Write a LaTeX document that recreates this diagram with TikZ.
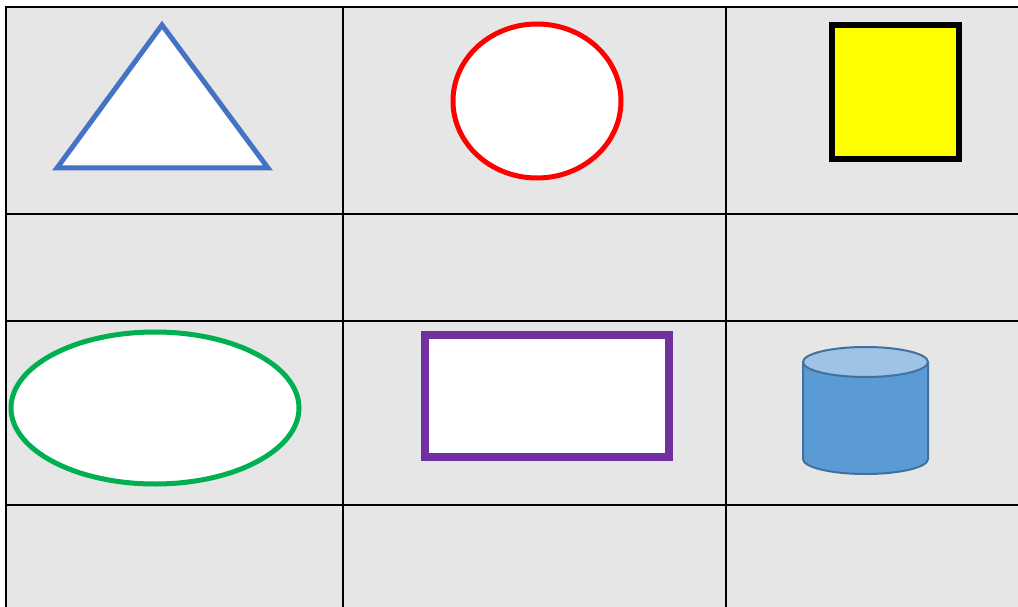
\documentclass[tikz,border=0pt]{standalone}
\usepackage{tikz}
\definecolor{cellgray}{HTML}{E6E6E6}
\definecolor{triblue}{HTML}{4472C4}
\definecolor{circred}{HTML}{FF0000}
\definecolor{sqyellow}{HTML}{FFFF00}
\definecolor{ellgreen}{HTML}{00B050}
\definecolor{boxpurple}{HTML}{7030A0}
\definecolor{cylfill}{HTML}{5B9BD5}
\definecolor{cyltop}{HTML}{9DC3E6}
\definecolor{cyledge}{HTML}{41719C}

\begin{document}
\begin{tikzpicture}[x=1pt, y=-1pt,
  grid/.style={draw=black, line width=2pt},
  figline/.style={fill=white, line width=5pt, line join=miter},
  cyl/.style={draw=cyledge, line width=2pt}]
\useasboundingbox (0,0) rectangle (1018,607);
\begin{scope}
\clip (0,0) rectangle (1018,607);
% table cells
\fill[cellgray] (6,7) rectangle (1030,620);
\draw[grid] (6,620) -- (6,7) -- (1030,7);
\foreach \gx in {343,726} \draw[grid] (\gx,7) -- (\gx,620);
\foreach \gy in {214,321,505} \draw[grid] (6,\gy) -- (1030,\gy);
\end{scope}
% row 1
\draw[figline, draw=triblue] (162,25) coordinate (apex) -- (268,168) coordinate (tr) -- (57,168) coordinate (tl) -- cycle;
\draw[figline, draw=circred] (537,101) coordinate (circ) ellipse [x radius=84pt, y radius=77pt];
\draw[figline, draw=black, fill=sqyellow, line width=6pt] (832,25) coordinate (sq) rectangle (959,159);
% row 3
\draw[figline, draw=ellgreen] (155,408) coordinate (ell) ellipse [x radius=144pt, y radius=76pt];
\draw[figline, draw=boxpurple, line width=7.5pt] (425,335) coordinate (rect) rectangle (669,457);
% cylinder
\fill[cylfill] (803,362) rectangle (928,459);
\draw[cyl, fill=cylfill] (803,362) -- (803,459) arc[start angle=180, end angle=360, x radius=62.5pt, y radius=15pt] -- (928,362);
\draw[cyl, fill=cyltop] (865.5,362) coordinate (cyl) ellipse [x radius=62.5pt, y radius=15pt];
\end{tikzpicture}
\end{document}
